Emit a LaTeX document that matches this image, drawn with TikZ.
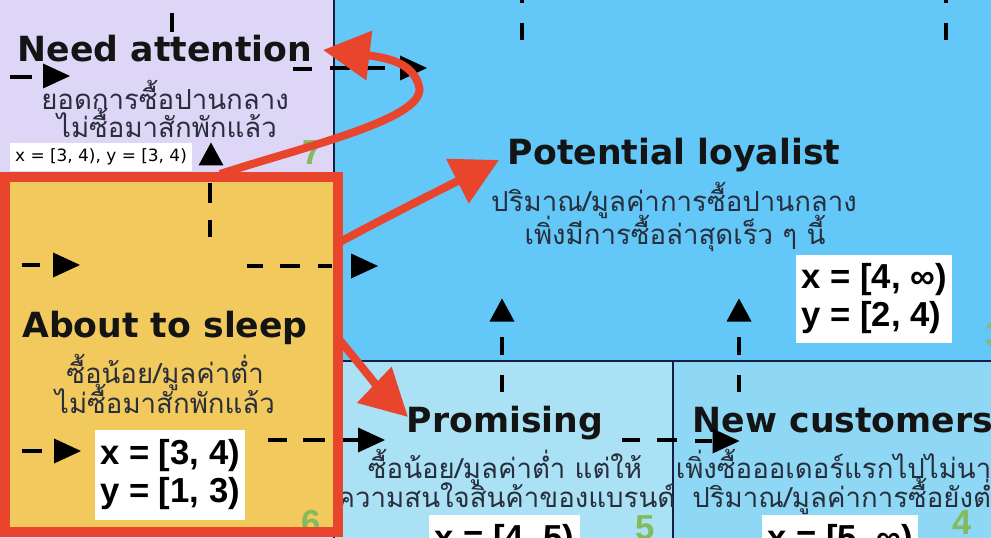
\documentclass[tikz,border=0pt]{standalone}
\usepackage{fontspec}
\usetikzlibrary{arrows.meta}
\newfontfamily\thaifont[Script=Thai]{Loma}
\newfontfamily\titlefont{DejaVu Sans}
\newfontfamily\boxfont{Liberation Sans}
\newfontfamily\smallfont{DejaVu Sans}
\definecolor{lav}{RGB}{222,214,247}
\definecolor{bluePL}{RGB}{99,199,247}
\definecolor{bluePR}{RGB}{170,225,245}
\definecolor{blueNC}{RGB}{142,216,245}
\definecolor{yel}{RGB}{242,201,92}
\definecolor{redA}{RGB}{232,69,44}
\definecolor{navy}{RGB}{22,30,66}
\definecolor{txt}{RGB}{40,46,60}
\definecolor{grn}{RGB}{130,186,92}
\tikzset{
 ttl/.style={font=\titlefont\bfseries\fontsize{26}{30}\selectfont, text=black!92, inner sep=0pt, anchor=base},
 thai/.style={font=\thaifont\fontsize{20.7}{24}\selectfont, text=txt, inner sep=0pt, anchor=base},
 rng/.style={font=\boxfont\bfseries\fontsize{26}{28.5}\selectfont, fill=white, align=left, inner sep=0pt, text=black},
 bd/.style={line width=3pt, black},
 sep/.style={line width=1.4pt, navy},
 redarr/.style={draw=redA, line width=6pt, -{Triangle[length=35pt,width=36pt]}},
 digit/.style={font=\boxfont\bfseries\fontsize{26}{26}\selectfont, text=grn, inner sep=0pt, anchor=north},
 trir/.pic={\fill[black] (-13.5,-12.5) -- (13.5,0) -- (-13.5,12.5) -- cycle;},
 triu/.pic={\fill[black] (-12.5,11.5) -- (0,-11.5) -- (12.5,11.5) -- cycle;},
}
\begin{document}
\begin{tikzpicture}[x=0.75pt,y=-0.75pt]
\useasboundingbox (0,0) rectangle (991,538);
\clip (0,0) rectangle (991,538);
% backgrounds
\fill[lav] (0,0) rectangle (335,538);
\fill[bluePL] (335,0) rectangle (991,361);
\fill[bluePR] (335,361) rectangle (673,538);
\fill[blueNC] (673,361) rectangle (991,538);
\draw[sep] (334,0) -- (334,538);
\draw[sep] (335,361) -- (991,361);
\draw[sep] (673,361) -- (673,538);
% Need attention
\node[ttl] (na) at (165,62) {Need attention};
\node[thai] (na1) at (165,110) {ยอดการซื้อปานกลาง};
\node[thai] (na2) at (167,138) {ไม่ซื้อมาสักพักแล้ว};
\node[font=\smallfont\fontsize{12.7}{14}\selectfont, fill=white, inner sep=0pt, minimum width=136.5pt, minimum height=21pt] (nar) at (101,157) {x = [3, 4), y = [3, 4)};
% Potential loyalist
\node[ttl] (pl) at (674,165) {Potential loyalist};
\node[thai] (pl1) at (674,212) {ปริมาณ/มูลค่าการซื้อปานกลาง};
\node[thai] (pl2) at (675,244) {เพิ่งมีการซื้อล่าสุดเร็ว ๆ นี้};
\node[rng, minimum width=117pt, minimum height=66pt] (plr) at (874,299) {x = [4, ∞)\\y = [2, 4)};
% Promising
\node[ttl] (pr) at (505,432) {Promising};
\node[thai] (pr1) at (505,478) {ซื้อน้อย/มูลค่าต่ำ แต่ให้};
\node[thai] (pr2) at (506,507) {ความสนใจสินค้าของแบรนด์};
\node[rng, minimum width=113pt, minimum height=67.5pt] (prr) at (504.5,560) {x = [4, 5)\\y = [1, 3)};
% New customers
\node[ttl] (nc) at (843,432) {New customers};
\node[thai] (nc1) at (843,478) {เพิ่งซื้อออเดอร์แรกไปไม่นาน};
\node[thai, anchor=base west] (nc2) at (692,507) {ปริมาณ/มูลค่าการซื้อยังต่ำอยู่};
\node[rng, minimum width=117pt, minimum height=67.5pt] (ncr) at (840,560) {x = [5, ∞)\\y = [1, 3)};
% green digits
\node[digit] (d7) at (312,140) {7};
\node[digit] (d5) at (645,515) {5};
\node[digit] (d4) at (962,510) {4};
\node[digit, opacity=0.7] (d3) at (995,322) {3};
% black dashed arrows outside the yellow box
\draw[bd] (172,13) -- (172,32);
\draw[bd] (10,77) -- (32,77);
\pic at (56.5,76) {trir};
\draw[bd] (293,69) -- (312,69) (330,68) -- (350,68) (365,68) -- (385,68);
\pic at (413.5,68) {trir};
\pic at (211,154) {triu};
\draw[bd] (522,0) -- (522,3) (522,23) -- (522,40) (946,0) -- (946,3) (946,23) -- (946,40);
\pic at (364.5,266) {trir};
\foreach \xx in {502,739} {
  \pic at (\xx,310) {triu};
  \draw[bd] (\xx,337) -- (\xx,355) (\xx,375) -- (\xx,392);
}
\draw[bd] (342,440) -- (358,440);
\pic at (371.5,440) {trir};
\draw[bd] (622,440) -- (640,440) (657,440) -- (677,440);
\draw[bd] (695,441) -- (712,441);
\pic at (726,441) {trir};
% About to sleep box
\fill[yel] (5,177) rectangle (338,532);
\node[digit] (d6) at (311,510) {6};
\draw[redA, line width=7.5pt] (5,177) rectangle (338,532);
\node[ttl] (ats) at (165,337) {About to sleep};
\node[thai] (ats1) at (165,383) {ซื้อน้อย/มูลค่าต่ำ};
\node[thai] (ats2) at (165,413) {ไม่ซื้อมาสักพักแล้ว};
\node[rng, minimum width=112.5pt, minimum height=67.5pt] (atsr) at (170,475) {x = [3, 4)\\y = [1, 3)};
\draw[bd] (22,265) -- (40,265);
\pic at (66.5,265) {trir};
\draw[bd] (247,266) -- (263,266) (280,266) -- (300,266) (318,266) -- (332,266);
\draw[bd] (210,183) -- (210,203) (210,220) -- (210,237);
\draw[bd] (22,451) -- (42,451);
\pic at (67.5,451) {trir};
\draw[bd] (268,440) -- (287,440) (303,440) -- (325,440);
% red arrows
\draw[redarr] (220,174) .. controls (310,145) and (428,118) .. (419,86) .. controls (413,64) and (390,58) .. (323,50);
\draw[redarr] (338,243) .. controls (390,215) and (440,190) .. (499,160);
\draw[redarr] (338,338) .. controls (360,365) and (385,395) .. (408,417);
\end{tikzpicture}
\end{document}
